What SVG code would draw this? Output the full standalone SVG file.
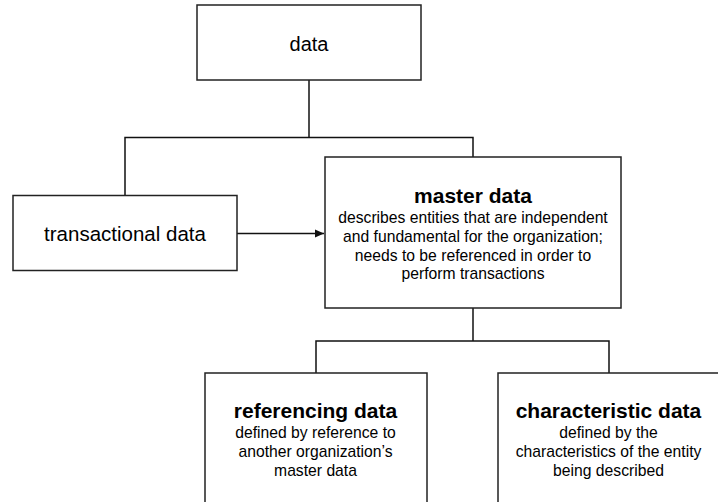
<svg xmlns="http://www.w3.org/2000/svg" width="718" height="502" viewBox="0 0 718 502">
<style>
  .box { fill: #fff; stroke: #222; stroke-width: 1.5; }
  .conn { fill: none; stroke: #111; stroke-width: 1.5; }
  text { font-family: "Liberation Sans", Arial, sans-serif; fill: #000; text-anchor: middle; }
  .big { font-size: 20px; }
  .title { font-size: 21px; font-weight: bold; }
  .body { font-size: 15.7px; }
</style>
<defs>
  <marker id="arrow" markerWidth="10" markerHeight="10" refX="9" refY="5" orient="auto" markerUnits="userSpaceOnUse">
    <path d="M0,1 L9,5 L0,9 Z" fill="#111"/>
  </marker>
</defs>
<rect width="718" height="502" fill="#fff"/>
<g id="connectors">
  <path class="conn" d="M309,80 V137.5"/>
  <path class="conn" d="M125,195 V137.5 H473 V157"/>
  <path class="conn" d="M237,233.5 H324" marker-end="url(#arrow)"/>
  <path class="conn" d="M473,308 V341"/>
  <path class="conn" d="M316,373 V341 H609 V373"/>
</g>
<g id="data">
  <rect class="box" x="197" y="5" width="224" height="75"/>
  <text class="big" x="309" y="51">data</text>
</g>
<g id="transactional">
  <rect class="box" x="13" y="195.5" width="224" height="75"/>
  <text class="big" x="125" y="241" style="font-size:20.5px">transactional data</text>
</g>
<g id="master">
  <rect class="box" x="325" y="157" width="296" height="151"/>
  <text class="title" x="473" y="203">master data</text>
  <text class="body" x="473" y="223.3">describes entities that are independent</text>
  <text class="body" x="473" y="242">and fundamental for the organization;</text>
  <text class="body" x="473" y="260.7">needs to be referenced in order to</text>
  <text class="body" x="473" y="279.3">perform transactions</text>
</g>
<g id="referencing">
  <rect class="box" x="205" y="373" width="222" height="140"/>
  <text class="title" x="315.5" y="418.3">referencing data</text>
  <text class="body" x="315.5" y="438.3">defined by reference to</text>
  <text class="body" x="315.5" y="457">another organization’s</text>
  <text class="body" x="315.5" y="475.7">master data</text>
</g>
<g id="characteristic">
  <rect class="box" x="498" y="373" width="222" height="140"/>
  <text class="title" x="608.5" y="418.3">characteristic data</text>
  <text class="body" x="608.5" y="438.3">defined by the</text>
  <text class="body" x="608.5" y="457">characteristics of the entity</text>
  <text class="body" x="608.5" y="475.7">being described</text>
</g>
</svg>
